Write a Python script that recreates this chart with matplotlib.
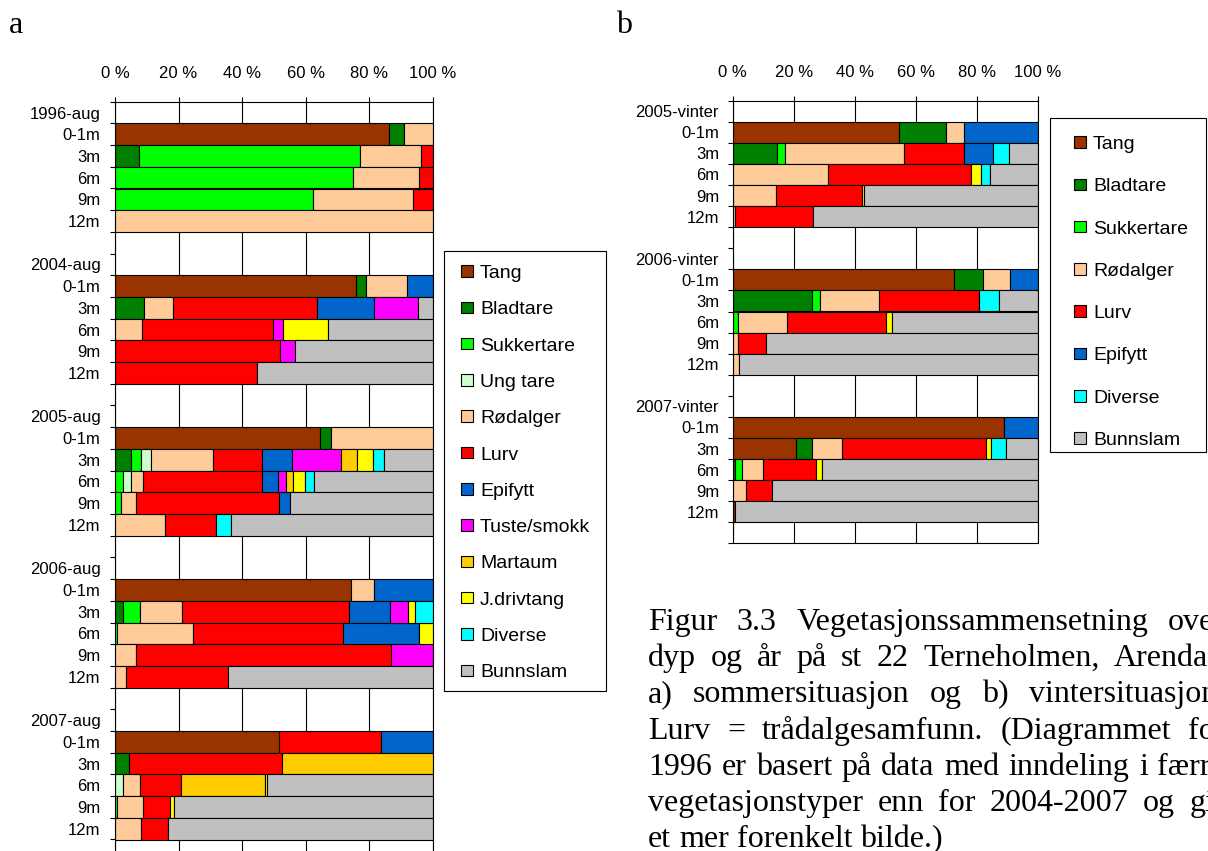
import numpy as np
import matplotlib
matplotlib.use("Agg")
import matplotlib.pyplot as plt
from matplotlib.patches import Rectangle

W, H = 1208, 851

series = ["Tang", "Bladtare", "Sukkertare", "Ung tare", "Rødalger", "Lurv",
          "Epifytt", "Tuste/smokk", "Martaum", "J.drivtang", "Diverse", "Bunnslam"]
colors = {
    "Tang": "#993300", "Bladtare": "#008000", "Sukkertare": "#00FF00",
    "Ung tare": "#CCFFCC", "Rødalger": "#FFCC99", "Lurv": "#FF0000",
    "Epifytt": "#0066CC", "Tuste/smokk": "#FF00FF", "Martaum": "#FFCC00",
    "J.drivtang": "#FFFF00", "Diverse": "#00FFFF", "Bunnslam": "#C0C0C0",
}

depths = ["0-1m", "3m", "6m", "9m", "12m"]
years_a = ["1996-aug", "2004-aug", "2005-aug", "2006-aug", "2007-aug"]
years_b = ["2005-vinter", "2006-vinter", "2007-vinter"]

# ---- panel a (summer), rows: per year 0-1m, 3m, 6m, 9m, 12m ----
tang_a       = [86.3, 0, 0, 0, 0,   75.9, 0, 0, 0, 0,   64.6, 0, 0, 0, 0,   74.2, 0, 0, 0, 0,   51.7, 0, 0, 0, 0]
bladtare_a   = [4.6, 7.5, 0, 0, 0,  3.2, 9.0, 0, 0, 0,  3.3, 5.0, 0, 0, 0,  0, 2.5, 0, 0, 0,    0, 4.5, 0, 0, 0]
sukkertare_a = [0, 69.5, 75.0, 62.4, 0,  0, 0, 0, 0, 0,  0, 3.3, 2.4, 2.0, 0,  0, 5.5, 0.7, 0, 0,  0, 0, 0, 0.7, 0]
ungtare_a    = [0, 0, 0, 0, 0,  0, 0, 0, 0, 0,  0, 3.0, 2.5, 0, 0,  0, 0, 0, 0, 0,  0, 0, 2.5, 0, 0]
rodalger_a   = [9.1, 19.3, 20.8, 31.4, 100,  12.9, 9.3, 8.4, 0, 0,  32.1, 19.6, 3.8, 4.6, 15.8,
                7.4, 13.2, 23.9, 6.6, 3.4,  0, 0, 5.4, 8.0, 8.3]
lurv_a       = [0, 3.7, 4.2, 6.2, 0,  0, 45.4, 41.2, 52.0, 44.6,  0, 15.4, 37.6, 45.1, 15.9,
                0, 52.6, 47.1, 80.2, 32.2,  32.0, 48.0, 13.0, 8.5, 8.3]
epifytt_a    = [0, 0, 0, 0, 0,  8.0, 17.9, 0, 0, 0,  0, 9.5, 4.9, 3.3, 0,  18.4, 12.9, 23.9, 0, 0,  16.3, 0, 0, 0, 0]
tuste_a      = [0, 0, 0, 0, 0,  0, 13.9, 3.4, 4.8, 0,  0, 15.4, 2.5, 0, 0,  0, 5.4, 0, 13.2, 0,  0, 0, 0, 0, 0]
martaum_a    = [0, 0, 0, 0, 0,  0, 0, 0, 0, 0,  0, 5.1, 2.4, 0, 0,  0, 0, 0, 0, 0,  0, 47.5, 26.2, 0, 0]
jdrivtang_a  = [0, 0, 0, 0, 0,  0, 0, 14.1, 0, 0,  0, 4.9, 3.8, 0, 0,  0, 2.4, 4.4, 0, 0,  0, 0, 0.7, 1.4, 0]
diverse_a    = [0, 0, 0, 0, 0,  0, 0, 0, 0, 0,  0, 3.4, 2.6, 0, 4.9,  0, 5.5, 0, 0, 0,  0, 0, 0, 0, 0]
bunnslam_a   = [0, 0, 0, 0, 0,  0, 4.5, 32.9, 43.2, 55.4,  0, 15.4, 37.5, 45.0, 63.4,
                0, 0, 0, 0, 64.4,  0, 0, 52.2, 81.4, 83.4]

# ---- panel b (winter) ----
tang_b       = [54.6, 0, 0, 0, 0,  72.6, 0, 0, 0, 0,  88.9, 20.6, 0, 0, 0.6]
bladtare_b   = [15.2, 14.6, 0, 0, 0,  9.3, 26.0, 0, 0, 0,  0, 5.4, 0.9, 0, 0]
sukkertare_b = [0, 2.6, 0, 0, 0,  0, 2.6, 1.6, 0, 0,  0, 0, 2.2, 0, 0]
rodalger_b   = [6.0, 39.0, 31.1, 14.2, 0.8,  9.0, 19.4, 16.1, 1.6, 2.2,  0, 9.9, 6.8, 4.3, 0]
lurv_b       = [0, 19.6, 46.8, 28.3, 25.6,  0, 32.6, 32.6, 9.2, 0,  0, 47.0, 17.4, 8.7, 0]
epifytt_b    = [24.2, 9.6, 0, 0, 0,  9.1, 0, 0, 0, 0,  11.1, 0, 0, 0, 0]
jdrivtang_b  = [0, 0, 3.4, 0.6, 0,  0, 0, 1.8, 0, 0,  0, 1.6, 2.1, 0, 0]
diverse_b    = [0, 5.2, 3.1, 0, 0,  0, 6.5, 0, 0, 0,  0, 5.1, 0, 0, 0]
bunnslam_b   = [0, 9.4, 15.6, 56.9, 73.6,  0, 12.9, 47.9, 89.2, 97.8,  0, 10.4, 70.6, 87.0, 99.4]

data_a = {"Tang": tang_a, "Bladtare": bladtare_a, "Sukkertare": sukkertare_a,
          "Ung tare": ungtare_a, "Rødalger": rodalger_a, "Lurv": lurv_a,
          "Epifytt": epifytt_a, "Tuste/smokk": tuste_a, "Martaum": martaum_a,
          "J.drivtang": jdrivtang_a, "Diverse": diverse_a, "Bunnslam": bunnslam_a}
data_b = {"Tang": tang_b, "Bladtare": bladtare_b, "Sukkertare": sukkertare_b,
          "Rødalger": rodalger_b, "Lurv": lurv_b, "Epifytt": epifytt_b,
          "J.drivtang": jdrivtang_b, "Diverse": diverse_b, "Bunnslam": bunnslam_b}
legend_a = series
legend_b = ["Tang", "Bladtare", "Sukkertare", "Rødalger", "Lurv", "Epifytt", "Diverse", "Bunnslam"]
xticks = [0, 20, 40, 60, 80, 100]

plt.rcParams["font.family"] = ["Liberation Sans", "DejaVu Sans"]
fig = plt.figure(figsize=(W / 100, H / 100), dpi=100)


def build_rows(years):
    labels, pos = [], []
    for y in years:
        labels.append(y)
        for d in depths:
            pos.append(len(labels))
            labels.append(d)
        labels.append("")
    return labels, np.array(pos)


def panel(rect_px, years, data, label_pad):
    x0, top, w, rowh = rect_px
    labels, pos = build_rows(years)
    n = len(labels)
    h = n * rowh
    ax = fig.add_axes([x0 / W, 1 - (top + h) / H, w / W, h / H])
    left = np.zeros(len(pos))
    for name in series:
        if name not in data:
            continue
        vals = np.array(data[name], dtype=float)
        m = vals > 0
        ax.barh(pos[m], vals[m], left=left[m], height=1.0, color=colors[name],
                edgecolor="black", linewidth=0.8, zorder=2)
        left += vals
    ax.set_xlim(0, 100)
    ax.set_ylim(n - 0.5, -0.5)
    ax.set_axisbelow(True)
    ax.xaxis.grid(True, color="black", linewidth=0.8, zorder=0)
    ax.xaxis.tick_top()
    ax.set_xticks(xticks)
    ax.set_xticklabels([f"{v} %" for v in xticks])
    ax.tick_params(axis="x", which="major", top=True, bottom=False, labeltop=True,
                   labelbottom=False, length=3.6, width=0.8, pad=11, labelsize=12)
    ax.set_yticks(np.arange(n))
    ax.set_yticklabels(labels)
    ax.tick_params(axis="y", which="major", length=0, pad=label_pad, labelsize=12)
    ax.set_yticks(np.arange(n + 1) - 0.5, minor=True)
    ax.tick_params(axis="y", which="minor", length=3.6, width=0.8, direction="out")
    for s in ax.spines.values():
        s.set_color("black")
        s.set_linewidth(0.8)
        s.set_zorder(3)
    return ax


axA = panel((115, 101.7, 317.7, 21.7), years_a, data_a, 10.5)
axB = panel((732.7, 100.7, 305.3, 21.08), years_b, data_b, 9.8)


def draw_legend(names, box, y0, dy, sq_x, txt_x):
    x1, y1, x2, y2 = box
    fig.patches.append(Rectangle((x1 / W, 1 - y2 / H), (x2 - x1) / W, (y2 - y1) / H,
                                 transform=fig.transFigure, fill=False,
                                 edgecolor="black", linewidth=0.8))
    s = 11.5
    for i, name in enumerate(names):
        yc = y0 + i * dy
        fig.patches.append(Rectangle((sq_x / W, 1 - (yc + s / 2) / H), s / W, s / H,
                                     transform=fig.transFigure, facecolor=colors[name],
                                     edgecolor="black", linewidth=0.8))
        fig.text(txt_x / W, 1 - (yc + 7) / H, name, fontsize=14, va="baseline", ha="left")


draw_legend(legend_a, (444, 251, 606, 691), 271, 36.3, 461, 480)
draw_legend(legend_b, (1050, 118, 1206, 452), 142, 42.3, 1074, 1093)

serif = ["Liberation Serif", "DejaVu Serif"]
fig.text(9 / W, 1 - 33 / H, "a", fontsize=23, family=serif, va="baseline")
fig.text(616 / W, 1 - 33 / H, "b", fontsize=23, family=serif, va="baseline")

caption = [
    "Figur 3.3 Vegetasjonssammensetning over",
    "dyp og år på st 22 Terneholmen, Arendal,",
    "a) sommersituasjon og b) vintersituasjon.",
    "Lurv = trådalgesamfunn. (Diagrammet for",
    "1996 er basert på data med inndeling i færre",
    "vegetasjonstyper enn for 2004-2007 og gir",
    "et mer forenkelt bilde.)",
]
renderer = fig.canvas.get_renderer()
cx0, cR, base0, ldy, cfs = 648, 1225, 630, 36.2, 23
for i, line in enumerate(caption):
    words = line.split(" ")
    yb = 1 - (base0 + i * ldy) / H
    texts = [fig.text(0, yb, wd, fontsize=cfs, family=serif, va="baseline") for wd in words]
    widths = [t.get_window_extent(renderer).width for t in texts]
    if i == len(caption) - 1:
        gap = 0.25 * cfs * 100 / 72
    else:
        gap = (cR - cx0 - sum(widths)) / (len(words) - 1)
    x = cx0
    for t, wd in zip(texts, widths):
        t.set_x(x / W)
        x += wd + gap

fig.savefig("out.png", dpi=100)
